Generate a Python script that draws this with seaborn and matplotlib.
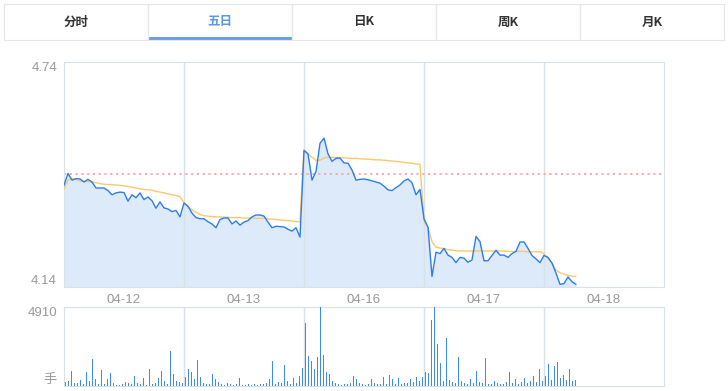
import numpy as np
import pandas as pd
import matplotlib
matplotlib.use("Agg")
import matplotlib.pyplot as plt
from matplotlib.patches import Rectangle
import seaborn as sns

sns.set_style("white")
plt.rcParams['font.family'] = ['Liberation Sans', 'Noto Sans CJK SC']

# -------------------------
# données
# -------------------------
tabs = ["分时", "五日", "日K", "周K", "月K"]
active_tab = "五日"
days = ["04-12", "04-13", "04-16", "04-17", "04-18"]
prev_close = 4.44
price_ticks = [4.14, 4.74]
vol_max = 4910

price_0412 = [4.411, 4.443, 4.425, 4.429, 4.428, 4.420, 4.427, 4.420, 4.404, 4.404, 4.404, 4.397, 4.386, 4.391, 4.393,
              4.392, 4.369, 4.386, 4.378, 4.391, 4.373, 4.380, 4.370, 4.350, 4.367, 4.351, 4.348, 4.341, 4.344, 4.327]
price_0413 = [4.364, 4.355, 4.337, 4.325, 4.322, 4.322, 4.314, 4.308, 4.298, 4.320, 4.324, 4.324, 4.308, 4.316, 4.305,
              4.313, 4.317, 4.327, 4.332, 4.332, 4.329, 4.313, 4.298, 4.302, 4.301, 4.300, 4.294, 4.289, 4.298, 4.273]
price_0416 = [4.504, 4.495, 4.425, 4.448, 4.523, 4.537, 4.495, 4.475, 4.483, 4.484, 4.471, 4.470, 4.452, 4.425, 4.427,
              4.428, 4.426, 4.423, 4.420, 4.417, 4.409, 4.399, 4.397, 4.405, 4.412, 4.423, 4.428, 4.418, 4.386, 4.400]
price_0417 = [4.322, 4.299, 4.168, 4.233, 4.229, 4.243, 4.225, 4.219, 4.205, 4.219, 4.217, 4.206, 4.212, 4.275, 4.261,
              4.210, 4.210, 4.224, 4.238, 4.225, 4.225, 4.219, 4.229, 4.235, 4.260, 4.260, 4.243, 4.224, 4.215, 4.205]
price_0418 = [4.224, 4.219, 4.204, 4.177, 4.147, 4.149, 4.167, 4.154, 4.147]

avg_0412 = [4.401, 4.425, 4.429, 4.426, 4.423, 4.422, 4.421, 4.420, 4.418, 4.416, 4.414, 4.413, 4.413, 4.412, 4.411,
            4.410, 4.408, 4.406, 4.404, 4.402, 4.400, 4.399, 4.398, 4.395, 4.393, 4.391, 4.388, 4.386, 4.384, 4.381]
avg_0413 = [4.364, 4.355, 4.346, 4.339, 4.333, 4.330, 4.329, 4.328, 4.327, 4.327, 4.326, 4.326, 4.325, 4.325, 4.325,
            4.324, 4.324, 4.324, 4.323, 4.323, 4.323, 4.322, 4.321, 4.320, 4.319, 4.318, 4.317, 4.316, 4.315, 4.313]
avg_0416 = [4.506, 4.495, 4.486, 4.478, 4.478, 4.484, 4.486, 4.486, 4.485, 4.485, 4.484, 4.484, 4.483, 4.483, 4.482,
            4.481, 4.481, 4.480, 4.479, 4.479, 4.478, 4.477, 4.476, 4.475, 4.474, 4.472, 4.471, 4.470, 4.468, 4.467]
avg_0417 = [4.317, 4.299, 4.261, 4.246, 4.244, 4.242, 4.240, 4.238, 4.237, 4.236, 4.236, 4.236, 4.236, 4.236, 4.236,
            4.236, 4.236, 4.236, 4.236, 4.236, 4.236, 4.235, 4.235, 4.235, 4.235, 4.235, 4.234, 4.234, 4.234, 4.234]
avg_0418 = [4.229, 4.215, 4.202, 4.185, 4.178, 4.174, 4.171, 4.169, 4.168]

vol_0412 = [250, 280, 950, 180, 200, 380, 150, 880, 300, 1700, 440, 120, 1000, 100, 440, 820, 200, 90, 60, 150,
            250, 180, 120, 630, 200, 110, 500, 90, 1070, 150, 180, 500, 950, 300, 120, 2200, 760, 300, 250, 200]
vol_0413 = [570, 1070, 880, 440, 1640, 570, 200, 120, 100, 760, 440, 250, 150, 90, 180, 120, 80, 150, 500, 80,
            60, 120, 80, 130, 90, 150, 120, 200, 440, 1570, 150, 250, 180, 1320, 300, 120, 500, 200, 630, 1130]
vol_0416 = [3900, 1890, 1570, 1070, 1820, 4910, 1950, 880, 760, 300, 200, 120, 90, 150, 100, 200, 630, 440, 200, 120,
            90, 150, 440, 180, 100, 120, 570, 150, 690, 440, 150, 500, 120, 200, 180, 440, 250, 570, 300, 570]
vol_0417 = [880, 820, 4100, 4910, 2640, 1450, 300, 2960, 400, 250, 180, 1830, 300, 200, 150, 440, 200, 950, 250, 180,
            1770, 150, 120, 300, 180, 150, 120, 250, 880, 200, 440, 150, 250, 500, 200, 300, 630, 250, 1070, 300]
vol_0418 = [600, 1390, 350, 1260, 1510, 500, 700, 400, 1070, 300, 380]

prices = [price_0412, price_0413, price_0416, price_0417, price_0418]
avgs = [avg_0412, avg_0413, avg_0416, avg_0417, avg_0418]
vols = [vol_0412, vol_0413, vol_0416, vol_0417, vol_0418]

# une journée = 240 minutes, prix toutes les 8 min, volume toutes les 6 min
DAY = 240
rows = []
for d, (p, a) in enumerate(zip(prices, avgs)):
    for i in range(len(p)):
        rows.append({"t": d * DAY + i * 8, "price": p[i], "avg": a[i]})
df = pd.DataFrame(rows)

vrows = []
for d, v in enumerate(vols):
    for i in range(len(v)):
        vrows.append({"t": d * DAY + i * 6 + 3, "vol": v[i]})
vdf = pd.DataFrame(vrows)

# -------------------------
# figure
# -------------------------
W, H = 728, 391
fig = plt.figure(figsize=(W / 100, H / 100), dpi=100)


def box(l, t, r, b):
    return [l / W, 1 - b / H, (r - l) / W, (b - t) / H]


grid_col = '#d8e0e8'
txt_col = '#999999'

# onglets
ax_tab = fig.add_axes(box(4, 4, 724, 40))
ax_tab.set_xlim(0, len(tabs))
ax_tab.set_ylim(0, 1)
for k, name in enumerate(tabs):
    on = name == active_tab
    ax_tab.text(k + 0.5, 0.5, name, ha='center', va='center', fontsize=9, fontweight='bold',
                color='#5b96e8' if on else '#333333', family=['Noto Sans CJK SC', 'DejaVu Sans'])
    if on:
        ax_tab.add_patch(Rectangle((k, 0), 1, 3 / 36, color='#6a9fe8', lw=0))
    if k > 0:
        ax_tab.axvline(k, color='#e6e6e6', lw=1)
ax_tab.set_xticks([])
ax_tab.set_yticks([])
for s in ax_tab.spines.values():
    s.set_color('#e6e6e6')

# prix
ax_p = fig.add_axes(box(64, 62, 664, 287))
ax_p.fill_between(df["t"], df["price"], price_ticks[0], color='#ddeafa', lw=0, zorder=1)
for d in range(1, len(days)):
    ax_p.axvline(d * DAY, color=grid_col, lw=1, zorder=2)
ax_p.axhline(prev_close, color='#f5a5a5', ls=(0, (1.2, 2)), lw=1.3, zorder=2)
sns.lineplot(data=df, x="t", y="avg", ax=ax_p, color='#f7c96c', lw=1, zorder=3)
sns.lineplot(data=df, x="t", y="price", ax=ax_p, color='#2b7cf0', lw=1, zorder=4)
ax_p.set_xlim(0, DAY * len(days))
ax_p.set_ylim(price_ticks[0], price_ticks[1])
ax_p.set_xticks([d * DAY + DAY / 2 for d in range(len(days))])
ax_p.set_xticklabels(days)
ax_p.set_yticks(price_ticks)
ax_p.set_yticklabels([f"{v:.2f}" for v in price_ticks])
ax_p.tick_params(length=0, colors=txt_col, labelsize=9.5)
ax_p.tick_params(axis='x', pad=5)
ax_p.tick_params(axis='y', pad=5)
ylabs = ax_p.get_yticklabels()
ylabs[0].set_va('bottom')
ylabs[1].set_va('top')
ax_p.set_xlabel("")
ax_p.set_ylabel("")
for s in ax_p.spines.values():
    s.set_color(grid_col)

# volume
ax_v = fig.add_axes(box(64, 307, 664, 386))
sns.histplot(data=vdf, x="t", weights="vol", binwidth=6, binrange=(0, DAY * len(days)), ax=ax_v,
             color='#3a8cf5', alpha=1, linewidth=0, shrink=0.6, zorder=3)
for d in range(1, len(days)):
    ax_v.axvline(d * DAY, color=grid_col, lw=1, zorder=2)
ax_v.set_xlim(0, DAY * len(days))
ax_v.set_ylim(0, vol_max)
ax_v.set_xticks([])
ax_v.set_yticks([0, vol_max])
ax_v.set_yticklabels(["手", str(vol_max)])
ax_v.tick_params(length=0, colors=txt_col, labelsize=9.5, pad=5)
vlabs = ax_v.get_yticklabels()
vlabs[0].set_va('bottom')
vlabs[1].set_va('top')
ax_v.set_xlabel("")
ax_v.set_ylabel("")
for s in ax_v.spines.values():
    s.set_color(grid_col)

fig.savefig("out.png", dpi=100)
